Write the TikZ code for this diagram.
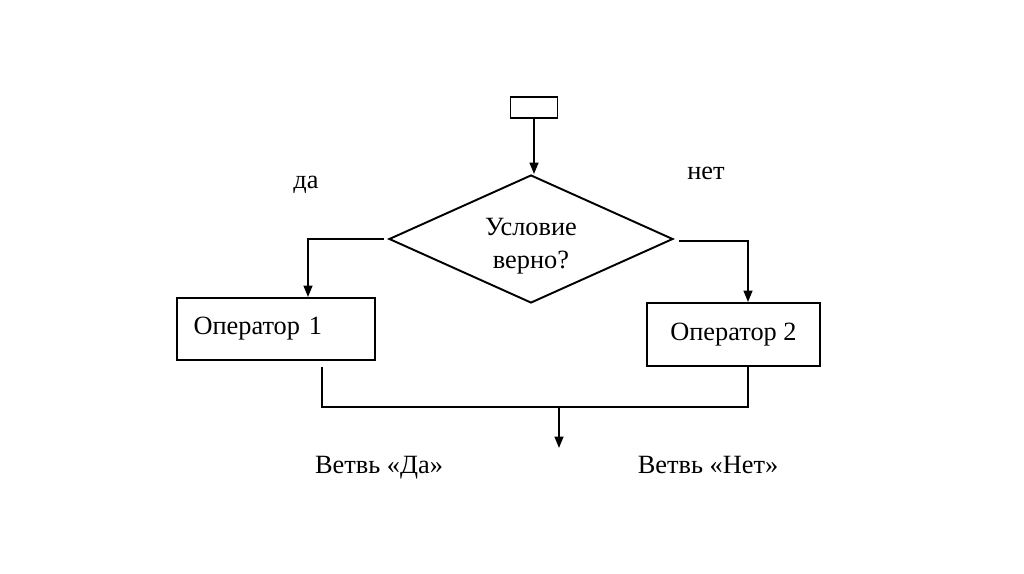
\documentclass[tikz,border=0pt]{standalone}
\usepackage{fontspec}
\setmainfont{Liberation Serif}
\usepackage{tikz}
\usetikzlibrary{arrows.meta, positioning, calc, shapes.geometric}
\tikzset{
  flow/.style={line width=1.1pt},
  block/.style={draw, line width=1.1pt, inner sep=0pt}
}

\begin{document}
\begin{tikzpicture}[x=0.02cm, y=-0.02cm, >={Triangle[length=6.5pt,width=5pt]},
                    every node/.style={font=\fontsize{15}{17}\selectfont}]
  \useasboundingbox (0,0) rectangle (1024,574);
  % blocks
  \node[block, minimum width=0.94cm, minimum height=0.42cm] (start) at (534,107.5) {};
  \node[block, shape=diamond, aspect=2.2, minimum width=5.68cm, minimum height=2.56cm]
    (cond) at (531,239) {\raisebox{0pt}[\dimexpr\height+8pt][\depth]{\begin{tabular}{@{}c@{}}Условие\\[1.5pt]верно?\end{tabular}}};
  \node[block, minimum width=3.96cm, minimum height=1.24cm, text width=3.3cm,
        align=left] (op1) at (276,329) {Оператор 1};
  \node[block, minimum width=3.46cm, minimum height=1.26cm] (op2) at (733.5,334.5) {Оператор 2};
  % labels
  \node[anchor=base] (yes) at (306,189) {да};
  \node[anchor=base] (no) at (706,180) {нет};
  \node[anchor=base] (branchyes) at (379,473) {Ветвь «Да»};
  \node[anchor=base] (branchno) at (708,473) {Ветвь «Нет»};
  % joints
  \coordinate (out1) at (322,367);
  \coordinate (out2) at (748,367);
  \coordinate (merge) at (559,407);
  \coordinate (finish) at (559,448);
  % connectors
  \draw[flow, ->] (start.south) -- (start.south |- cond.north);
  \draw[flow, ->] ($(cond.west)+(-4,0)$) -| ($(op1.north)+(32,0)$);
  \draw[flow, ->] ($(cond.east)+(5,2)$) -| ($(op2.north)+(14.5,0)$);
  \draw[flow] (out1) |- (merge) -| (out2);
  \draw[flow, ->] (merge) -- (finish);
\end{tikzpicture}
\end{document}
